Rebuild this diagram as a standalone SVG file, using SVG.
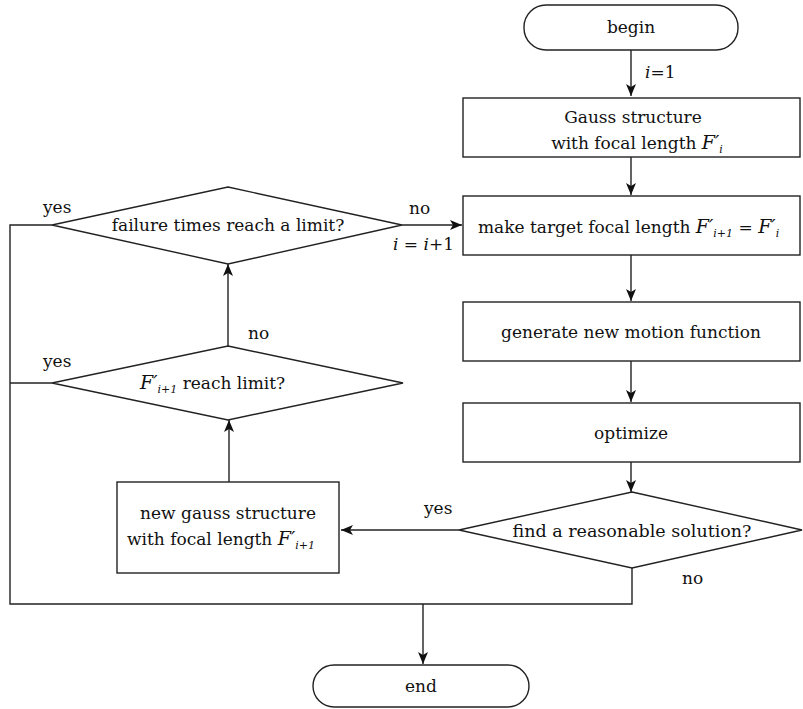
<svg xmlns="http://www.w3.org/2000/svg" width="803" height="709" viewBox="0 0 803 709">
<style>
.s{fill:#fff;stroke:#222;stroke-width:1.4}
.c{fill:none;stroke:#222;stroke-width:1.4}
text{font-family:"DejaVu Serif","Liberation Serif",serif;font-size:17px;fill:#111}
.m{text-anchor:middle}
.i{font-style:italic}
.f{font-style:italic;font-size:19px}
.sub{font-size:11px;font-style:italic}
</style>
<defs>
<marker id="a" viewBox="0 0 12 10" refX="12" refY="5" markerWidth="12" markerHeight="10" markerUnits="userSpaceOnUse" orient="auto">
<path d="M0,0 L12,5 L0,10 L3,5 Z" fill="#111"/>
</marker>
</defs>
<g id="connectors">
<path class="c" d="M631,50 V96" marker-end="url(#a)"/>
<path class="c" d="M631,157 V195" marker-end="url(#a)"/>
<path class="c" d="M631,255 V301" marker-end="url(#a)"/>
<path class="c" d="M631,361 V402" marker-end="url(#a)"/>
<path class="c" d="M631,462 V492" marker-end="url(#a)"/>
<path class="c" d="M459,530 H341" marker-end="url(#a)"/>
<path class="c" d="M229,482 V420" marker-end="url(#a)"/>
<path class="c" d="M228,346 V264" marker-end="url(#a)"/>
<path class="c" d="M402,225 H462" marker-end="url(#a)"/>
<path class="c" d="M52,225 H10 V604 H632 V568"/>
<path class="c" d="M52,383 H10"/>
<path class="c" d="M423,604 V664" marker-end="url(#a)"/>
<text x="645" y="78" class="i">i<tspan font-style="normal">=1</tspan></text>
<text x="409" y="214">no</text>
<text x="393" y="250"><tspan class="i">i</tspan> = <tspan class="i">i</tspan>+1</text>
<text x="43" y="213">yes</text>
<text x="248" y="339">no</text>
<text x="43" y="367">yes</text>
<text x="424" y="514">yes</text>
<text x="682" y="584">no</text>
</g>
<g id="begin">
<rect class="s" x="524" y="5" width="214" height="45" rx="22"/>
<text class="m" x="631" y="33">begin</text>
</g>
<g id="gauss">
<rect class="s" x="463" y="98" width="337" height="59"/>
<text class="m" x="633" y="123">Gauss structure</text>
<text class="m" x="637" y="149">with focal length <tspan class="f">F′</tspan><tspan class="sub" dy="4">i</tspan></text>
</g>
<g id="target">
<rect class="s" x="463" y="196" width="337" height="59"/>
<text x="478" y="233">make target focal length <tspan class="f">F′</tspan><tspan class="sub" dy="4">i+1</tspan><tspan dy="-4"> = </tspan><tspan class="f">F′</tspan><tspan class="sub" dy="4">i</tspan></text>
</g>
<g id="generate">
<rect class="s" x="463" y="302" width="337" height="59"/>
<text class="m" x="631" y="338">generate new motion function</text>
</g>
<g id="optimize">
<rect class="s" x="463" y="403" width="337" height="59"/>
<text class="m" x="631" y="439">optimize</text>
</g>
<g id="find">
<polygon class="s" points="632,492 802,530 632,568 459,530"/>
<text class="m" x="632" y="537" style="font-size:17.5px">find a reasonable solution?</text>
</g>
<g id="newgauss">
<rect class="s" x="117" y="482" width="222" height="91"/>
<text class="m" x="228" y="519">new gauss structure</text>
<text x="127" y="545">with focal length <tspan class="f">F′</tspan><tspan class="sub" dy="4">i+1</tspan></text>
</g>
<g id="reach">
<polygon class="s" points="228,346 403,383 228,420 52,383"/>
<text x="140" y="389"><tspan class="f">F′</tspan><tspan class="sub" dy="4">i+1</tspan><tspan dy="-4"> reach limit?</tspan></text>
</g>
<g id="failure">
<polygon class="s" points="228,187 402,225 228,264 52,225"/>
<text class="m" x="228" y="231">failure times reach a limit?</text>
</g>
<g id="end">
<rect class="s" x="313" y="665" width="216" height="42" rx="21"/>
<text class="m" x="421" y="692">end</text>
</g>
</svg>
